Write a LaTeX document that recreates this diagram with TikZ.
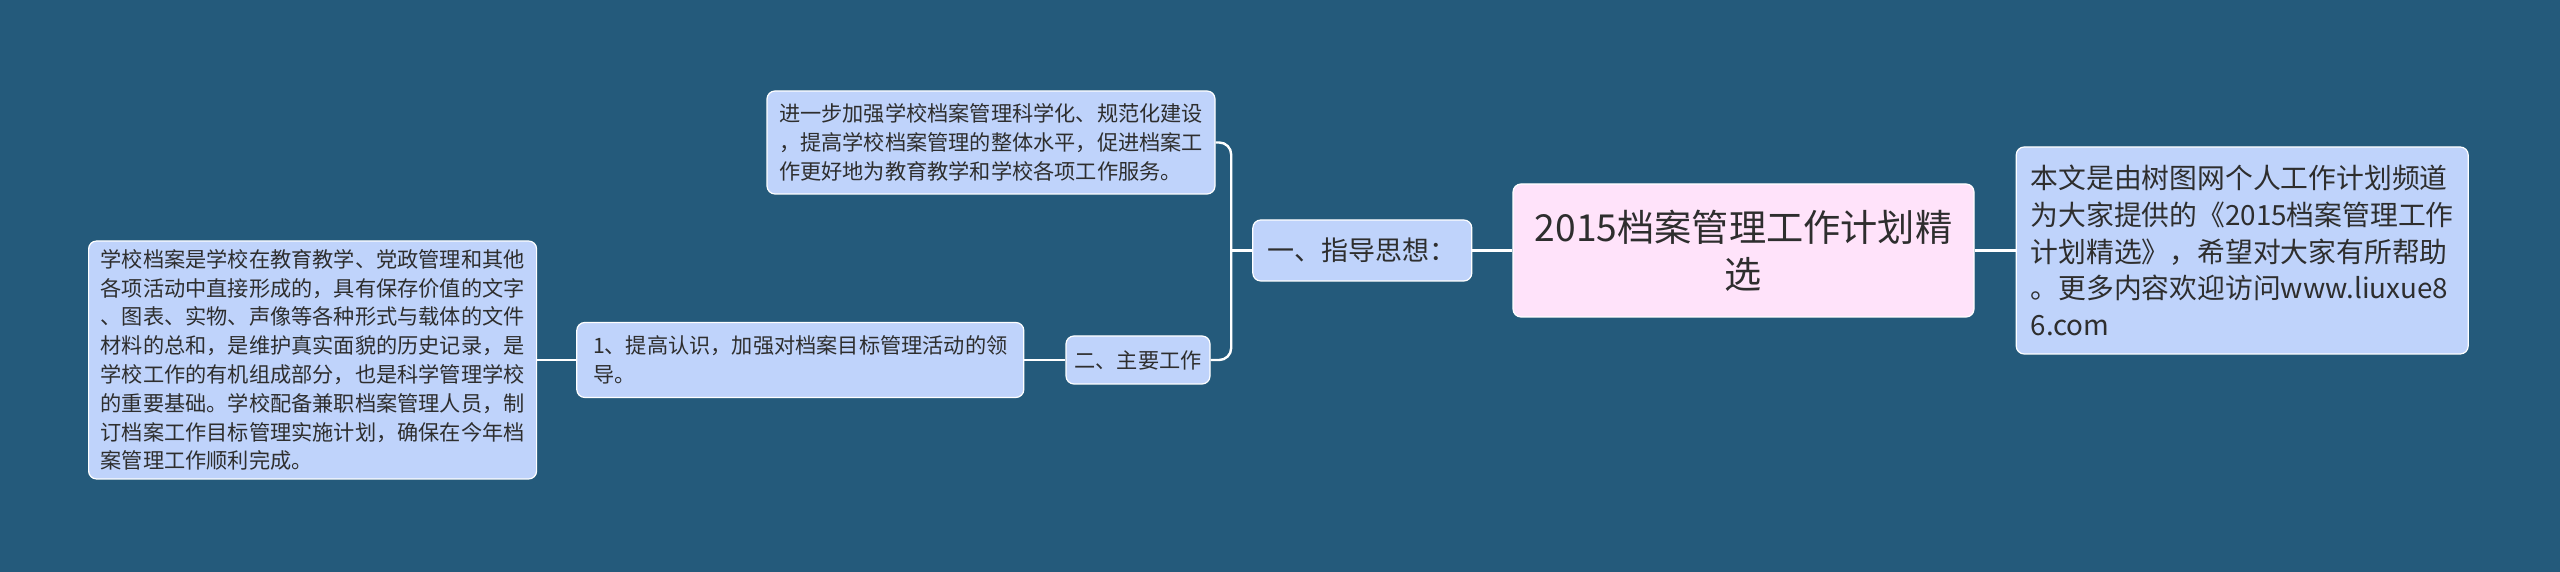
\documentclass[tikz,border=0pt]{standalone}
\usepackage{fontspec}
\setmainfont{Noto Sans CJK SC}
\usepackage{xcolor}
\usetikzlibrary{positioning}

\definecolor{bgblue}{HTML}{245A7B}
\definecolor{leafblue}{HTML}{BFD3FB}
\definecolor{rootpink}{HTML}{FFE3FA}
\definecolor{inktext}{HTML}{2E2E2E}

\begin{document}
\begin{tikzpicture}[
  x=1pt, y=1pt,
  font=\fontsize{10.6}{14.4}\selectfont, text=inktext,
  box/.style={draw=white, line width=0.6pt, rounded corners=4pt, fill=leafblue,
              align=left, inner xsep=4pt, inner ysep=0pt},
  topic/.style={box, fill=rootpink, align=center,
                font=\fontsize{18.6}{23.7}\selectfont},
  link/.style={draw=white, line width=1.2pt, rounded corners=6pt}
]
% canvas
\fill[bgblue] (0,0) rectangle (1280,286);
\useasboundingbox (0,0) rectangle (1280,286);
% centre and right note
\node[topic, minimum width=230.5pt, minimum height=66.5pt] (root) at (871.75,160.75)
      {2015档案管理工作计划精\\选};
\node[box, right=20.5pt of root, minimum width=226pt, minimum height=103.5pt,
      font=\fontsize{13.9}{18.4}\selectfont] (note)
      {本文是由树图网个人工作计划频道\\为大家提供的《2015档案管理工作\\计划精选》，希望对大家有所帮助\\。更多内容欢迎访问www.liuxue8\\6.com};
% branch 1
\node[box, left=20pt of root, minimum width=109.5pt, minimum height=30.5pt,
      font=\fontsize{13.5}{16}\selectfont] (g1) {一、指导思想：};
\node[box, minimum width=224pt, minimum height=51.5pt] (guide) at (495.5,214.75)
      {进一步加强学校档案管理科学化、规范化建设\\，提高学校档案管理的整体水平，促进档案工\\作更好地为教育教学和学校各项工作服务。};
% branch 2
\node[box, minimum width=72pt, minimum height=24pt] (g2) at (569,106) {二、主要工作};
\node[box, left=20.5pt of g2, minimum width=223.5pt, minimum height=37.5pt,
      font=\fontsize{10.6}{14.4}\selectfont] (w1)
      {1、提高认识，加强对档案目标管理活动的领\\导。};
\node[box, left=19.5pt of w1, minimum width=224pt, minimum height=119pt] (w1d)
      {学校档案是学校在教育教学、党政管理和其他\\各项活动中直接形成的，具有保存价值的文字\\、图表、实物、声像等各种形式与载体的文件\\材料的总和，是维护真实面貌的历史记录，是\\学校工作的有机组成部分，也是科学管理学校\\的重要基础。学校配备兼职档案管理人员，制\\订档案工作目标管理实施计划，确保在今年档\\案管理工作顺利完成。};
% links
\coordinate (fork) at ([xshift=-10.5pt]g1.west);
\draw[link] (root.west) -- (g1.east);
\draw[link] (root.east) -- (note.west);
\draw[link] (g1.west) -- (fork);
\draw[link] (guide.east) -| (fork) |- (g2.east);
\draw[link] (g2.west) -- (w1.east);
\draw[link] (w1.west) -- (w1d.east);
\end{tikzpicture}
\end{document}
